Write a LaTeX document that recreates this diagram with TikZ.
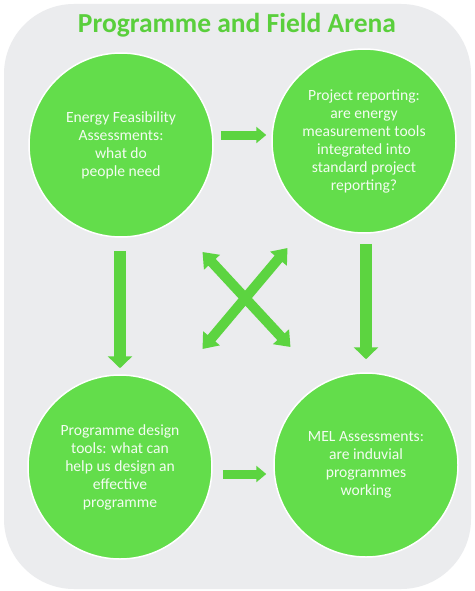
\documentclass[tikz,border=0pt]{standalone}
\usepackage{fontspec}
\setmainfont{Carlito}
\usetikzlibrary{arrows.meta}
\usetikzlibrary{calc}
\definecolor{leaf}{RGB}{99,221,75}
\definecolor{arrowgreen}{RGB}{92,212,64}
\definecolor{titlegreen}{RGB}{90,207,60}
\definecolor{panel}{RGB}{235,236,238}
\tikzset{
stage/.style={circle, fill=leaf, draw=white, line width=1.5pt,
  minimum size=184pt, inner sep=0pt, align=center,
  text=white!92!leaf, font=\fontsize{15.6}{18}\selectfont},
flow/.style={draw=arrowgreen, line width=12pt,
  -{Triangle[width=24pt,length=12pt]}},
sideflow/.style={flow, line width=9pt,
  -{Triangle[width=16pt,length=10pt]}},
cross/.style={draw=arrowgreen, line width=10pt,
  {Triangle[width=21pt,length=14pt]}-{Triangle[width=21pt,length=14pt]}}
}

\begin{document}
\begin{tikzpicture}[x=1pt,y=-1pt]
\useasboundingbox (0,0) rectangle (474,591);
\fill[white] (0,0) rectangle (474,591);
\fill[panel, rounded corners=70pt] (4,4) rectangle (471,589);
\node[font=\bfseries\fontsize{27.5}{31}\selectfont, text=titlegreen]
(title) at (237,25) {Programme and Field Arena};
% the four stages
\node[stage] (fea) at (121,145)
{Energy Feasibility\\Assessments:\\what do\\people need};
\node[stage] (rep) at (364,141)
{Project reporting:\\are energy\\measurement tools\\integrated into\\standard project\\reporting?};
\node[stage] (des) at (120,467)
{Programme design\\tools: what can\\help us design an\\effective\\programme};
\node[stage] (mel) at (366,465)
{MEL Assessments:\\are induvial\\programmes\\working};
% links
\draw[sideflow] ($(fea.east)+(7,-10)$) -- ($(rep.west)+(-5,-6)$);
\draw[sideflow] ($(des.east)+(10,7)$) -- ($(mel.west)+(-7,9)$);
\draw[flow] ($(fea.south)+(-1,13)$) -- ($(des.north)+(0,-6)$);
\draw[flow] ($(rep.south)+(2,10)$) -- ($(mel.north)+(0,-13)$);
\coordinate (hub) at ($(fea)!0.5!(mel)$);
\draw[cross] ($(hub)+(-41,-53)$) -- ($(hub)+(47,42)$);
\draw[cross] ($(hub)+(44,-57)$) -- ($(hub)+(-41,44)$);
\end{tikzpicture}
\end{document}
